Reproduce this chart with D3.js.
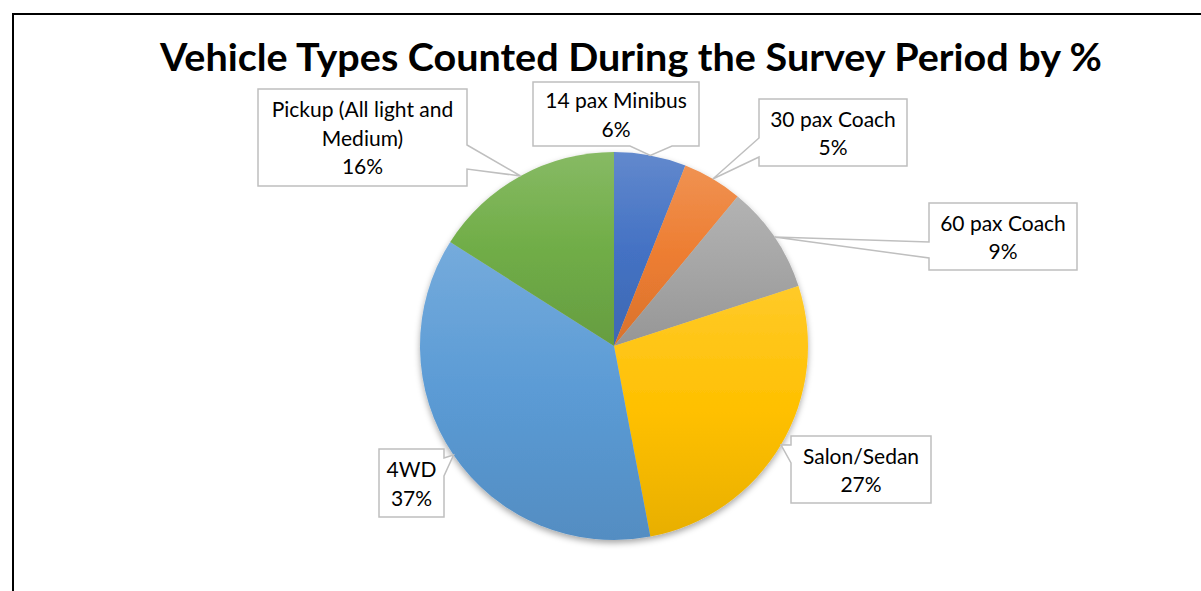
<!DOCTYPE html>
<html>
<head>
<meta charset="utf-8">
<script src="https://cdn.jsdelivr.net/npm/d3@7"></script>
<style>
  html, body { margin: 0; padding: 0; background: #fff; overflow: hidden; }
  svg { display: block; }
</style>
</head>
<body>
<div id="chart"></div>
<script>
// chart data
const categories = ['14 pax Minibus', '30 pax Coach', '60 pax Coach', 'Salon/Sedan', '4WD', 'Pickup (All light and Medium)'];
const shares = [6, 5, 9, 27, 37, 16];
const labelLines = [['14 pax Minibus'], ['30 pax Coach'], ['60 pax Coach'], ['Salon/Sedan'], ['4WD'], ['Pickup (All light and', 'Medium)']];
const colors = ['#4472C4', '#ED7D31', '#A5A5A5', '#FFC000', '#5B9BD5', '#70AD47'];
const title = 'Vehicle Types Counted During the Survey Period by %';

// callout boxes: [x0, y0, x1, y1], side the pointer leaves from, pointer base along that side
const callouts = [
  { box: [533, 82, 699, 146], side: 'bottom', base: [630, 672] },
  { box: [759, 99, 907, 166], side: 'left', base: [138, 157] },
  { box: [929, 203, 1077, 270], side: 'left', base: [242, 258] },
  { box: [791, 436, 931, 503], side: 'left', base: [445, 463] },
  { box: [379, 449, 444, 517], side: 'right', base: [458, 476] },
  { box: [258, 89, 467, 186], side: 'right', base: [145, 169] }
];

const W = 1201, H = 591;
const cx = 614, cy = 346, radius = 194;
const fontSize = 21, lineH = 28.5;

const svg = d3.select('#chart').append('svg')
  .attr('width', W)
  .attr('height', H);

const defs = svg.append('defs');

const shadow = defs.append('filter')
  .attr('id', 'shadow')
  .attr('x', '-20%').attr('y', '-20%')
  .attr('width', '140%').attr('height', '140%');
shadow.append('feDropShadow')
  .attr('dx', 0).attr('dy', 3)
  .attr('stdDeviation', 3)
  .attr('flood-color', '#000')
  .attr('flood-opacity', 0.35);

colors.forEach((c, i) => {
  const g = defs.append('linearGradient')
    .attr('id', 'grad' + i)
    .attr('x1', 0).attr('y1', 0).attr('x2', 0).attr('y2', 1);
  g.append('stop').attr('offset', '0%').attr('stop-color', d3.interpolateRgb(c, '#fff')(0.16));
  g.append('stop').attr('offset', '50%').attr('stop-color', c);
  g.append('stop').attr('offset', '100%').attr('stop-color', d3.interpolateRgb(c, '#000')(0.09));
});

// outer chart border (runs past the window on the right and bottom)
svg.append('rect')
  .attr('x', 13).attr('y', 14)
  .attr('width', 1400).attr('height', 800)
  .attr('fill', 'none')
  .attr('stroke', '#000')
  .attr('stroke-width', 2);

svg.append('text')
  .attr('x', 631)
  .attr('y', 71)
  .attr('text-anchor', 'middle')
  .style('font-family', 'Lato, "Open Sans", sans-serif')
  .style('font-weight', 'bold')
  .style('font-size', '38px')
  .attr('fill', '#000')
  .attr('textLength', 942)
  .attr('lengthAdjust', 'spacingAndGlyphs')
  .text(title);

const pie = d3.pie().sort(null).value(d => d);
const arcs = pie(shares);
const arc = d3.arc().innerRadius(0).outerRadius(radius);

const pieG = svg.append('g')
  .attr('transform', `translate(${cx},${cy})`)
  .attr('filter', 'url(#shadow)');

pieG.selectAll('path')
  .data(arcs)
  .join('path')
  .attr('d', arc)
  .attr('fill', (d, i) => `url(#grad${i})`);

function calloutPath(c, ax, ay) {
  const [x0, y0, x1, y1] = c.box;
  const [b0, b1] = c.base;
  if (c.side === 'left') {
    return `M${x0},${y0}H${x1}V${y1}H${x0}V${b1}L${ax},${ay}L${x0},${b0}Z`;
  }
  if (c.side === 'bottom') {
    return `M${x0},${y0}H${x1}V${y1}H${b1}L${ax},${ay}L${b0},${y1}H${x0}Z`;
  }
  return `M${x0},${y0}H${x1}V${b0}L${ax},${ay}L${x1},${b1}V${y1}H${x0}Z`;
}

const labelG = svg.append('g');

arcs.forEach((d, i) => {
  const c = callouts[i];
  const mid = (d.startAngle + d.endAngle) / 2;
  const ax = cx + radius * Math.sin(mid);
  const ay = cy - radius * Math.cos(mid);

  labelG.append('path')
    .attr('d', calloutPath(c, ax, ay))
    .attr('fill', '#fff')
    .attr('stroke', '#BFBFBF')
    .attr('stroke-width', 1.5);

  const lines = labelLines[i].concat([shares[i] + '%']);
  const bx = (c.box[0] + c.box[2]) / 2;
  const by = (c.box[1] + c.box[3]) / 2;
  const t = labelG.append('text')
    .attr('text-anchor', 'middle')
    .style('font-family', 'Lato, "Open Sans", sans-serif')
    .style('font-size', fontSize + 'px')
    .attr('fill', '#000');
  lines.forEach((ln, k) => {
    t.append('tspan')
      .attr('x', bx)
      .attr('y', by - (lines.length - 1) / 2 * lineH + k * lineH + 0.4 * fontSize)
      .text(ln);
  });
});
</script>
</body>
</html>
